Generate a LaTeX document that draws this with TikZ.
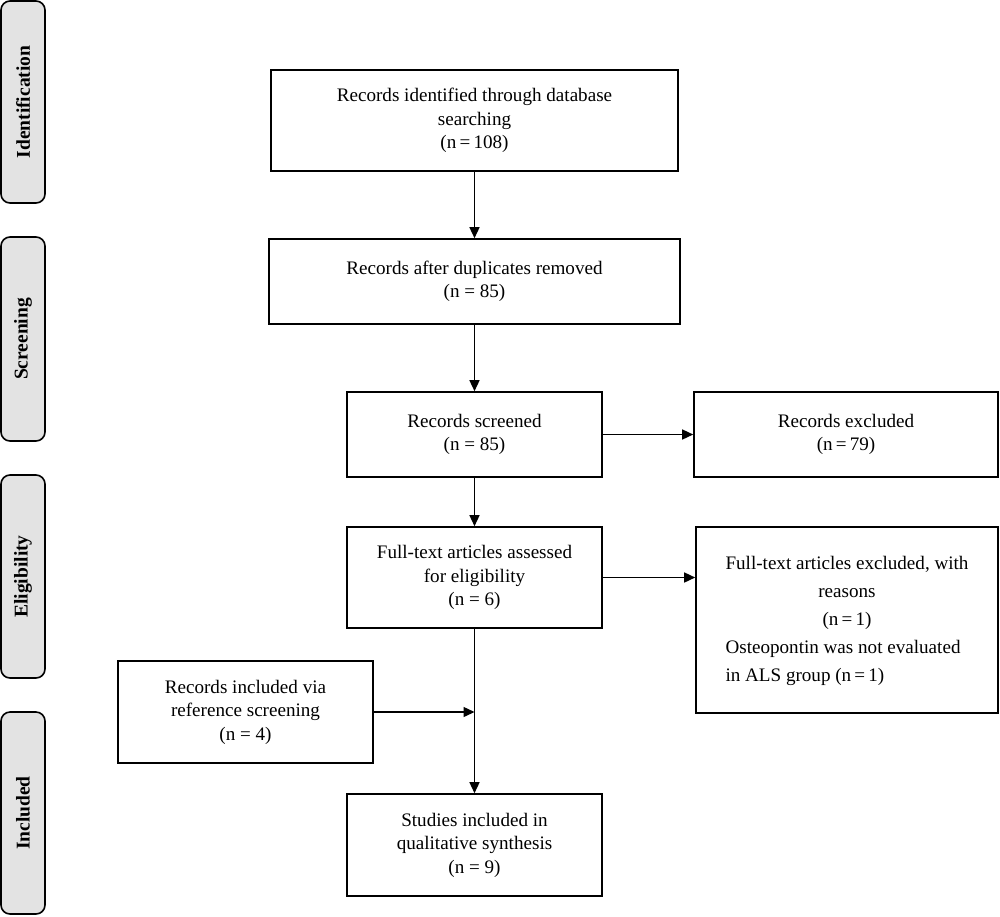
\documentclass[tikz,border=0pt]{standalone}
\usepackage{fontspec}
\setmainfont{Liberation Serif}
\usetikzlibrary{arrows.meta,calc}
\tikzset{
  box/.style={draw=black, line width=1.6pt, rectangle, align=center, inner sep=0pt,
    font=\fontsize{19.1}{23.5}\selectfont},
  phase/.style={draw=black, line width=1.6pt, fill=black!11, rounded corners=9pt,
    minimum width=44pt, inner sep=0pt},
  phasetext/.style={rotate=90, font=\fontsize{19.5}{22}\selectfont\bfseries},
  arr/.style={line width=1.4pt, -{Triangle[length=11pt,width=10pt]}},
  ln/.style={line width=1.4pt}
}
\begin{document}
\begin{tikzpicture}[x=1pt,y=-1pt]
\useasboundingbox (0,0) rectangle (1000,916);
% phase boxes
\node[phase, minimum height=202pt] (pid) at (23,102) {};
\node[phasetext] (pidt) at (pid.center) {Identification};
\node[phase, minimum height=204pt] (psc) at (23,339) {};
\node[phasetext] (psct) at (psc.center) {Screening};
\node[phase, minimum height=203pt] (pel) at (23,576.5) {};
\node[phasetext] (pelt) at (pel.center) {Eligibility};
\node[phase, minimum height=202pt] (pin) at (23,813) {};
\node[phasetext] (pint) at (pin.center) {Included};
% flow boxes
\node[box, minimum width=407pt, minimum height=101pt] (b1) at (474.5,120.5)
  {Records identified through database\\searching\\(n\,=\,108)};
\node[box, minimum width=411pt, minimum height=85pt] (b2) at (474.5,281.5)
  {Records after duplicates removed\\(n = 85)};
\node[box, minimum width=255pt, minimum height=85pt] (b3) at (474.5,434.5)
  {Records screened\\(n = 85)};
\node[box, minimum width=304pt, minimum height=85pt] (ex1) at (846,434.5)
  {Records excluded\\(n\,=\,79)};
\node[box, minimum width=255pt, minimum height=101pt] (ft) at (474.5,577.5)
  {Full-text articles assessed\\for eligibility\\(n = 6)};
\node[box, minimum width=302pt, minimum height=186pt] (ex2) at (847,620)
  {\fontsize{19.1}{28}\selectfont\begin{tabular}{@{}l@{}}
  \multicolumn{1}{@{}c@{}}{Full-text articles excluded, with}\\
  \multicolumn{1}{@{}c@{}}{reasons}\\
  \multicolumn{1}{@{}c@{}}{(n\,=\,1)}\\
  Osteopontin was not evaluated\\
  in ALS group (n\,=\,1)
  \end{tabular}};
\node[box, minimum width=255pt, minimum height=102pt] (ref) at (245.5,712)
  {Records included via\\reference screening\\(n = 4)};
\node[box, minimum width=255pt, minimum height=102pt] (st) at (474.5,845)
  {Studies included in\\qualitative synthesis\\(n = 9)};
% connectors
\coordinate (join) at (ft.south |- ref.east);
\draw[arr] (b1) -- (b2);
\draw[arr] (b2) -- (b3);
\draw[arr] (b3) -- (ft);
\draw[arr] (ft) -- (st);
\draw[arr] (b3) -- (ex1);
\draw[arr] (ft.east) -- (ft.east -| ex2.west);
\draw[arr] (ref.east) -- (join);
\end{tikzpicture}
\end{document}
